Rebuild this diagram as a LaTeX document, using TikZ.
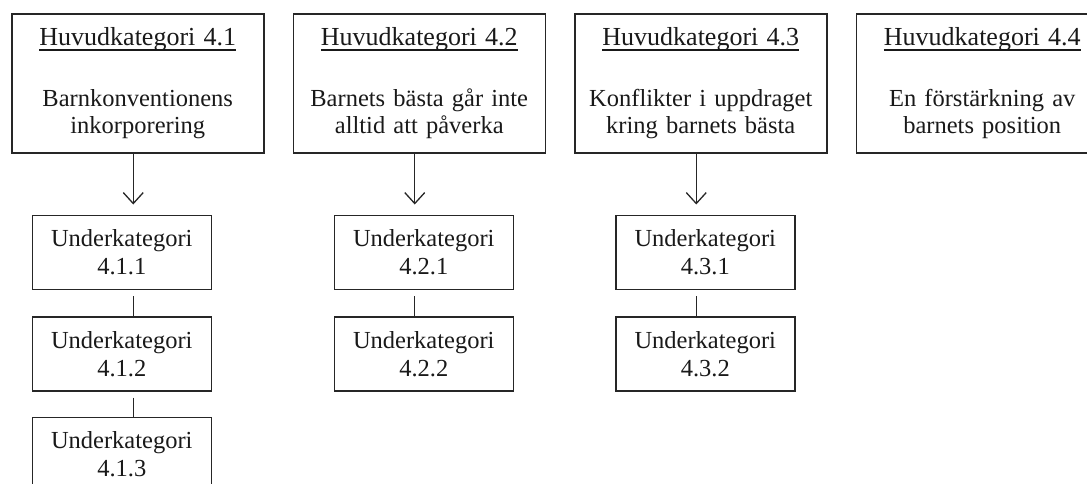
\documentclass[tikz,border=0pt]{standalone}
\usepackage{fontspec}
\setmainfont{Liberation Serif}
\usetikzlibrary{arrows.meta,positioning}
\newcommand{\ulinje}[1]{\setbox0\hbox{\fontsize{26}{27}\selectfont #1}\rlap{\rule[-5pt]{\wd0}{1.3pt}}\box0}

\begin{document}
\begin{tikzpicture}[auto]
\tikzstyle{huvud} = [rectangle, draw=black!85, line width=1.5pt, text=black!90,
text width=236pt, inner sep=8pt, minimum height=139pt, align=center,
font=\fontsize{24.5}{27}\selectfont]
\tikzstyle{under} = [rectangle, draw=black!85, line width=1.5pt, text=black!90,
minimum width=179pt, minimum height=74pt, align=center, inner sep=2pt,
font=\fontsize{24.5}{28}\selectfont]
\tikzstyle{pil} = [draw=black!85, line width=1.3pt,
-{Straight Barb[length=11pt,width=20pt]}, shorten >=10pt]
\tikzstyle{streck} = [draw=black!85, line width=1.3pt, shorten <=6pt]

\useasboundingbox (0,0) rectangle (1087pt,-483pt);

% row 1
\node [huvud, anchor=north west] (h1) at (11pt,-13pt) {\ulinje{Huvudkategori 4.1}\\[34pt]
Barnkonventionens\\inkorporering};
\node [huvud, right=28pt of h1] (h2) {\ulinje{Huvudkategori 4.2}\\[34pt]
Barnets bästa går inte\\alltid att påverka};
\node [huvud, right=28pt of h2] (h3) {\ulinje{Huvudkategori 4.3}\\[34pt]
Konflikter i uppdraget\\kring barnets bästa};
\node [huvud, right=28pt of h3] (h4) {\ulinje{Huvudkategori 4.4}\\[34pt]
En förstärkning av\\barnets position};
% row 2
\node [under, below=61pt of h1, xshift=-16pt] (u11) {Underkategori\\4.1.1};
\node [under, below=61pt of h2, xshift=4.5pt] (u21) {Underkategori\\4.2.1};
\node [under, below=61pt of h3, xshift=4.5pt] (u31) {Underkategori\\4.3.1};
% row 3
\node [under, below=26pt of u11] (u12) {Underkategori\\4.1.2};
\node [under, below=26pt of u21] (u22) {Underkategori\\4.2.2};
\node [under, below=26pt of u31] (u32) {Underkategori\\4.3.2};
% row 4
\node [under, below=25pt of u12] (u13) {Underkategori\\4.1.3};

\coordinate (a1) at ([xshift=-4.5pt]h1.south);
\coordinate (a2) at ([xshift=-4.5pt]h2.south);
\coordinate (a3) at ([xshift=-4.5pt]h3.south);

\path [pil] (a1) -- (a1 |- u11.north);
\path [pil] (a2) -- (a2 |- u21.north);
\path [pil] (a3) -- (a3 |- u31.north);

\path [streck] (u11.south -| a1) -- (u12.north -| a1);
\path [streck] (u12.south -| a1) -- (u13.north -| a1);
\path [streck] (u21.south -| a2) -- (u22.north -| a2);
\path [streck] (u31.south -| a3) -- (u32.north -| a3);

\end{tikzpicture}
\end{document}
